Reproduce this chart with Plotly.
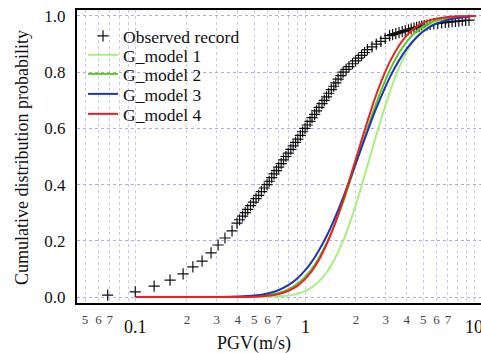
import math
import plotly.graph_objects as go

# ---------------- data ----------------
obs_pgv = [0.068, 0.099, 0.128, 0.159, 0.190, 0.217, 0.246, 0.278, 0.306, 0.336, 0.370, 0.396,
           0.410, 0.427, 0.443, 0.458, 0.476, 0.495, 0.513, 0.532, 0.552, 0.574, 0.596, 0.614,
           0.635, 0.656, 0.678, 0.698, 0.723, 0.746, 0.771, 0.796, 0.824, 0.851, 0.879, 0.906,
           0.938, 0.968, 1.000, 1.03, 1.07, 1.10, 1.14, 1.17, 1.21, 1.26, 1.30, 1.34, 1.38, 1.43,
           1.48, 1.52, 1.57, 1.63, 1.68, 1.75, 1.82, 1.91, 1.99, 2.07, 2.16, 2.25, 2.34, 2.49,
           2.64, 2.81, 2.98, 3.162, 3.296, 3.443, 3.597, 3.758, 3.917, 4.093, 4.246, 4.416,
           4.571, 4.732, 4.898, 5.070, 5.272, 5.495, 5.781, 6.095, 6.427, 6.761, 7.079, 7.413,
           7.762, 8.128, 8.511, 8.913, 9.333]
obs_prob = [0.007, 0.018, 0.039, 0.060, 0.082, 0.107, 0.128, 0.157, 0.185, 0.210, 0.235, 0.263,
            0.275, 0.288, 0.300, 0.312, 0.325, 0.338, 0.350, 0.362, 0.375, 0.388, 0.400, 0.412,
            0.425, 0.438, 0.450, 0.462, 0.475, 0.488, 0.500, 0.512, 0.525, 0.538, 0.550, 0.562,
            0.575, 0.588, 0.600, 0.612, 0.625, 0.638, 0.650, 0.662, 0.675, 0.688, 0.700, 0.712,
            0.725, 0.738, 0.750, 0.762, 0.775, 0.788, 0.800, 0.810, 0.820, 0.830, 0.840, 0.850,
            0.860, 0.870, 0.880, 0.890, 0.900, 0.910, 0.920, 0.930, 0.934, 0.937, 0.941, 0.944,
            0.948, 0.951, 0.954, 0.957, 0.9595, 0.962, 0.964, 0.966, 0.968, 0.970, 0.972, 0.974,
            0.9755, 0.977, 0.9785, 0.980, 0.981, 0.982, 0.983, 0.984, 0.985]

model_pgv = [0.1, 0.2, 0.3, 0.4, 0.5, 0.6, 0.7, 0.8, 0.9, 1.0, 1.1, 1.2, 1.35, 1.5, 1.7, 1.9,
             2.1, 2.35, 2.6, 2.9, 3.2, 3.6, 4.0, 4.5, 5.0, 5.7, 6.5, 7.5, 8.5, 9.5]
model1_prob = [0, 0, 0, 0, 0.0002, 0.0007, 0.0023, 0.0055, 0.0116, 0.0212, 0.035, 0.054, 0.090,
               0.136, 0.207, 0.288, 0.370, 0.471, 0.563, 0.657, 0.736, 0.816, 0.873, 0.921,
               0.951, 0.974, 0.988, 0.995, 0.998, 0.999]
model2_prob = [0, 0, 0, 0.0004, 0.0021, 0.0062, 0.0144, 0.0277, 0.0466, 0.0715, 0.101, 0.136,
               0.195, 0.259, 0.346, 0.434, 0.513, 0.603, 0.679, 0.753, 0.812, 0.869, 0.909,
               0.942, 0.963, 0.980, 0.990, 0.995, 0.998, 0.999]
model3_prob = [0, 0, 0.0002, 0.0015, 0.0051, 0.0126, 0.0251, 0.043, 0.0663, 0.0947, 0.127, 0.163,
               0.220, 0.281, 0.362, 0.440, 0.512, 0.592, 0.662, 0.730, 0.786, 0.842, 0.884,
               0.920, 0.945, 0.967, 0.981, 0.990, 0.995, 0.997]
model4_pgv = model_pgv + [10.3]
model4_prob = [0, 0, 0, 0.0002, 0.0012, 0.0042, 0.0107, 0.0222, 0.0396, 0.0636, 0.0934, 0.129,
               0.191, 0.259, 0.354, 0.448, 0.534, 0.629, 0.709, 0.784, 0.841, 0.895, 0.931,
               0.959, 0.976, 0.988, 0.994, 0.998, 0.999, 1.0, 1.0]

series_names = ["Observed record", "G_model 1", "G_model 2", "G_model 3", "G_model 4"]
series_colors = ["#111111", "#a8f07c", "#5cc81e", "#1f35b8", "#e42227"]

minor_tick_vals = [0.05, 0.06, 0.07, 0.08, 0.09, 0.2, 0.3, 0.4, 0.5, 0.6, 0.7, 0.8, 0.9,
                   2, 3, 4, 5, 6, 7, 8, 9]
minor_tick_text = ["5", "6", "7", "", "", "2", "3", "4", "5", "6", "7", "", "",
                   "2", "3", "4", "5", "6", "7", "", ""]
major_tick_vals = [0.1, 1, 10]
major_tick_text = ["0.1", "1", "10"]
y_tick_vals = [0.0, 0.2, 0.4, 0.6, 0.8, 1.0]
y_tick_text = ["0.0", "0.2", "0.4", "0.6", "0.8", "1.0"]

FONT = "Liberation Serif, Times New Roman, DejaVu Serif, serif"

# ---------------- figure ----------------
fig = go.Figure()

legend_ids = ["legend", "legend2", "legend3", "legend4", "legend5"]

fig.add_trace(go.Scatter(
    x=obs_pgv, y=obs_prob, mode="markers", name=series_names[0],
    marker=dict(symbol="cross-thin", size=8, line=dict(width=1.2, color=series_colors[0])),
    legend=legend_ids[0]))

model_x = [model_pgv, model_pgv, model_pgv, model4_pgv]
model_y = [model1_prob, model2_prob, model3_prob, model4_prob]
for i in range(4):
    fig.add_trace(go.Scatter(
        x=model_x[i], y=model_y[i], mode="lines", name=series_names[i + 1],
        line=dict(color=series_colors[i + 1], width=2, shape="spline", smoothing=0.6),
        legend=legend_ids[i + 1]))

# plot area: x 77..481, y 10..303
L, T, W, H = 77, 10, 404, 293
legend_pix_y = [36, 55, 74, 94, 114]
legend_common = dict(x=(83 - L) / W, xanchor="left", yanchor="middle",
                     bgcolor="rgba(0,0,0,0)",
                     borderwidth=0, font=dict(family=FONT, size=17.5, color="#111111"),
                     itemwidth=30)
layout_legends = {}
for lid, py in zip(legend_ids, legend_pix_y):
    layout_legends[lid] = dict(legend_common, y=(T + H - py) / H)

annotations = []
for v, t in zip(major_tick_vals, major_tick_text):
    annotations.append(dict(x=math.log10(v), y=(T + H - 327) / H, xref="x", yref="paper",
                            text=t, showarrow=False, xanchor="center", yanchor="middle",
                            font=dict(family=FONT, size=18, color="#111111")))
annotations.append(dict(x=(254 - L) / W, y=(T + H - 343) / H, xref="paper", yref="paper",
                        text="PGV(m/s)", showarrow=False, xanchor="center", yanchor="middle",
                        font=dict(family=FONT, size=18, color="#111111")))
annotations.append(dict(x=(22 - L) / W, y=(T + H - 158) / H, xref="paper", yref="paper",
                        text="Cumulative distribution probability", textangle=-90,
                        showarrow=False, xanchor="center", yanchor="middle",
                        font=dict(family=FONT, size=18, color="#111111")))

legend_box = dict(type="rect", xref="paper", yref="paper", layer="between",
                  x0=(80 - L) / W, x1=(252 - L) / W,
                  y0=(T + H - 125) / H, y1=(T + H - 24) / H,
                  fillcolor="white", line=dict(width=0))

fig.update_layout(
    width=481, height=353,
    margin=dict(l=L, r=481 - L - W, t=T, b=353 - T - H, pad=0),
    paper_bgcolor="white", plot_bgcolor="white",
    showlegend=True,
    annotations=annotations,
    shapes=[legend_box],
    **layout_legends,
    xaxis=dict(
        type="log", range=[-1.349, 1.041],
        tickvals=minor_tick_vals + major_tick_vals,
        ticktext=minor_tick_text + ["", "", ""],
        tickfont=dict(family=FONT, size=13, color="#444444"),
        ticks="outside", ticklen=3, tickcolor="rgba(0,0,0,0)",
        showgrid=True, gridcolor="#c9c9f2", griddash="dot", gridwidth=1,
        showline=True, linecolor="black", linewidth=2, mirror=True,
        zeroline=False),
    yaxis=dict(
        range=[-0.0213, 1.0213],
        tickvals=y_tick_vals, ticktext=y_tick_text,
        tickfont=dict(family=FONT, size=17, color="#111111"),
        ticks="outside", ticklen=6, tickcolor="rgba(0,0,0,0)",
        showgrid=True, gridcolor="#aaaaee", griddash="dot", gridwidth=1,
        showline=True, linecolor="black", linewidth=2, mirror=False,
        zeroline=False),
)

fig.write_html("out.html", config={"displayModeBar": False},
               post_script="document.body.style.margin='0';")
